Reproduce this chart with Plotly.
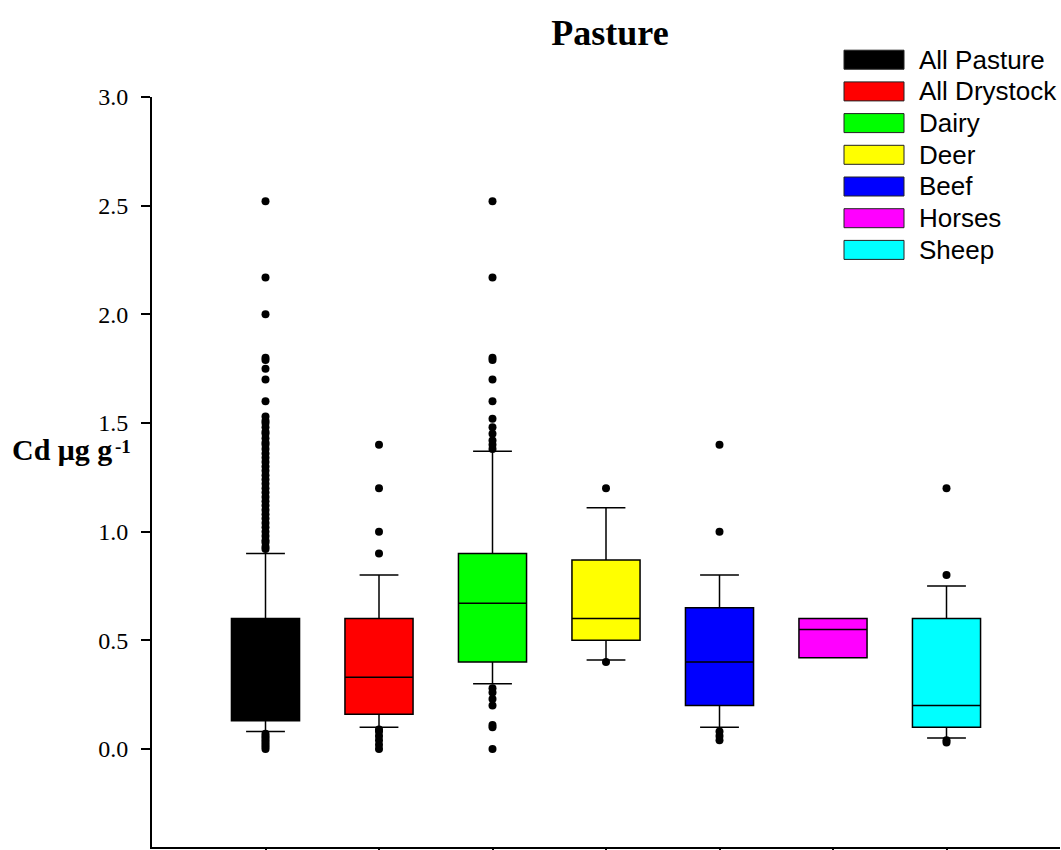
import plotly.graph_objects as go

# ---------------- data ----------------
categories = ["All Pasture", "All Drystock", "Dairy", "Deer", "Beef", "Horses", "Sheep"]
box_colors = ["#000000", "#ff0000", "#00ff00", "#ffff00", "#0000ff", "#ff00ff", "#00ffff"]

q1 = [0.13, 0.16, 0.40, 0.50, 0.20, 0.42, 0.10]
median = [0.31, 0.33, 0.67, 0.60, 0.40, 0.55, 0.20]
q3 = [0.60, 0.60, 0.90, 0.87, 0.65, 0.60, 0.60]
lower_whisker = [0.08, 0.10, 0.30, 0.41, 0.10, 0.42, 0.05]
upper_whisker = [0.90, 0.80, 1.37, 1.11, 0.80, 0.60, 0.75]

outliers_all_pasture = [2.52, 2.17, 2.0, 1.8, 1.79, 1.75, 1.7, 1.6, 1.53, 1.51, 1.5, 1.48,
                        1.46, 1.45, 1.43, 1.41, 1.4, 1.38, 1.36, 1.34, 1.32, 1.3, 1.28,
                        1.26, 1.24, 1.22, 1.2, 1.18, 1.16, 1.14, 1.12, 1.1, 1.08, 1.06,
                        1.04, 1.02, 1.0, 0.98, 0.96, 0.95, 0.93, 0.92,
                        0.07, 0.06, 0.05, 0.04, 0.03, 0.02, 0.01, 0.0]
outliers_all_drystock = [1.4, 1.2, 1.0, 0.9, 0.09, 0.08, 0.06, 0.04, 0.02, 0.0]
outliers_dairy = [2.52, 2.17, 1.8, 1.79, 1.7, 1.6, 1.52, 1.48, 1.45, 1.42, 1.4, 1.38,
                  0.28, 0.26, 0.23, 0.2, 0.11, 0.1, 0.0]
outliers_deer = [1.2, 0.4]
outliers_beef = [1.4, 1.0, 0.08, 0.06, 0.04]
outliers_horses = []
outliers_sheep = [1.2, 0.8, 0.04, 0.03]
outliers = [outliers_all_pasture, outliers_all_drystock, outliers_dairy, outliers_deer,
            outliers_beef, outliers_horses, outliers_sheep]

y_ticks = [0.0, 0.5, 1.0, 1.5, 2.0, 2.5, 3.0]

# ---------------- figure ----------------
W, H = 1061, 850
M_L, M_R, M_T, M_B = 152, 1, 97, 3

fig = go.Figure()
for cat, col, a, m, b, lo, hi in zip(categories, box_colors, q1, median, q3,
                                     lower_whisker, upper_whisker):
    fig.add_trace(go.Box(
        x=[cat], q1=[a], median=[m], q3=[b], lowerfence=[lo], upperfence=[hi],
        name=cat, fillcolor=col, line=dict(color="black", width=1.5),
        width=0.6, whiskerwidth=0.57, boxpoints=False, showlegend=False,
        hoverinfo="skip",
    ))

for cat, pts in zip(categories, outliers):
    if not pts:
        continue
    fig.add_trace(go.Scatter(
        x=[cat] * len(pts), y=pts, mode="markers",
        marker=dict(color="black", size=8, line=dict(width=0)),
        showlegend=False, hoverinfo="skip",
    ))

# manual legend (wide colour swatches like the original)
plot_w = W - M_L - M_R
plot_h = H - M_T - M_B
def px_x(px):
    return (px - M_L) / plot_w
def px_y(py):
    return (H - M_B - py) / plot_h

leg_x0, leg_x1, leg_text_x = 844, 904, 919
leg_y0, leg_step, leg_half = 59.7, 31.7, 9.5
for i, (cat, col) in enumerate(zip(categories, box_colors)):
    cy = leg_y0 + i * leg_step
    fig.add_shape(type="rect", xref="paper", yref="paper",
                  x0=px_x(leg_x0), x1=px_x(leg_x1),
                  y0=px_y(cy + leg_half), y1=px_y(cy - leg_half),
                  fillcolor=col, line=dict(color="#222222", width=1))
    fig.add_annotation(xref="paper", yref="paper", x=px_x(leg_text_x - 2), y=px_y(cy),
                       text=cat, showarrow=False, xanchor="left", yanchor="middle",
                       font=dict(family="Liberation Sans, Arial", size=26, color="black"))

# y axis label (horizontal), with the exponent set as a small raised text
fig.add_annotation(xref="paper", yref="y", x=px_x(10), y=1.38,
                   text="<b>Cd μg g</b>", showarrow=False,
                   xanchor="left", yanchor="middle",
                   font=dict(family="Liberation Serif, Times New Roman", size=30, color="black"))
fig.add_annotation(xref="paper", yref="paper", x=px_x(113), y=px_y(434),
                   text="<b>-1</b>", showarrow=False,
                   xanchor="left", yanchor="top",
                   font=dict(family="Liberation Serif, Times New Roman", size=19, color="black"))

fig.update_layout(
    width=W, height=H,
    margin=dict(l=M_L, r=M_R, t=M_T, b=M_B, pad=0, autoexpand=False),
    paper_bgcolor="white", plot_bgcolor="white",
    boxmode="overlay",
    title=dict(text="<b>Pasture</b>", x=(610 - M_L) / plot_w, xref="paper", xanchor="center",
               y=1 - 32 / H, yref="container", yanchor="middle",
               font=dict(family="Liberation Serif, Times New Roman", size=36, color="black")),
    xaxis=dict(type="category", categoryorder="array", categoryarray=categories,
               range=[-1, 7], showticklabels=False, ticks="outside", ticklen=8,
               tickwidth=1.5, tickcolor="black", showline=True, linecolor="black",
               linewidth=2, showgrid=False, zeroline=False, automargin=False),
    yaxis=dict(range=[-0.451, 3.0], tickvals=y_ticks, tickformat=".1f",
               ticks="outside", ticklen=9, tickwidth=1.5, tickcolor="black",
               showline=True, linecolor="black", linewidth=2, showgrid=False,
               zeroline=False, automargin=False, ticklabelstandoff=8,
               tickfont=dict(family="Liberation Serif, Times New Roman", size=24, color="black")),
    showlegend=False,
)

fig.write_html("out.html")
